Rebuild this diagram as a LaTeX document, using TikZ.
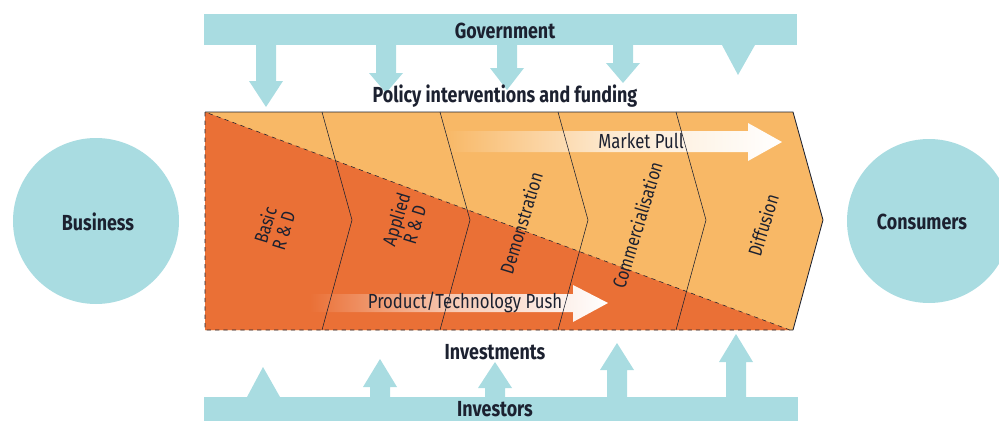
\documentclass[tikz,border=0pt]{standalone}
\usepackage{fontspec}
\setmainfont{Fira Sans}[FakeStretch=0.82]
\usetikzlibrary{positioning,calc}

\definecolor{govblue}{RGB}{169,220,225}
\definecolor{lightorange}{RGB}{248,184,102}
\definecolor{darkorange}{RGB}{234,112,54}
\definecolor{inktext}{RGB}{28,33,48}

% block arrows (centre x, shoulder y, tip y)
\newcommand{\downblock}[3]{%
  \fill[govblue] (#1-10,45) -- (#1+10,45) -- (#1+10,#2) -- (#1+17,#2) -- (#1,#3) -- (#1-17,#2) -- (#1-10,#2) -- cycle;}
\newcommand{\upblock}[3]{%
  \fill[govblue] (#1-10,397) -- (#1+10,397) -- (#1+10,#2) -- (#1+17,#2) -- (#1,#3) -- (#1-17,#2) -- (#1-10,#2) -- cycle;}

\tikzset{
  heading/.style={text=inktext, inner sep=1pt, font=\bfseries\fontsize{15.5}{17}\selectfont},
  stagelabel/.style={text=inktext, inner sep=1pt, rotate=73, align=center, font=\fontsize{13.5}{13.5}\selectfont},
  flowlabel/.style={text=inktext, inner sep=1pt, font=\fontsize{14.5}{16}\selectfont},
}

\begin{document}
\begin{tikzpicture}[x=0.025cm, y=-0.025cm]
    \clip (0,0) rectangle (999,421);

    % Government bar and arrows
    \fill[govblue] (204,14) rectangle (797,45);
    \node[heading] (gov) at (505,31) {Government};
    \downblock{266}{81}{107}
    \downblock{386}{73}{93}
    \downblock{507}{68}{90}
    \downblock{623}{63}{83}
    \fill[govblue] (722,45) -- (755,45) -- (738,75) -- cycle;
    \node[heading] (policy) at (505,96) {Policy interventions and funding};

    % Stages
    \fill[lightorange] (205,112) -- (793,112) -- (823,220) -- (793,330) -- (205,330) -- cycle;
    \fill[darkorange] (205,112) -- (790,330) -- (205,330) -- cycle;

    % Push and pull arrows
    \shade[left color=lightorange, right color=white, middle color=white!70!lightorange]
        (445,131) -- (748,131) -- (748,123) -- (782,142) -- (748,161) -- (748,152) -- (445,152) -- cycle;
    \shade[left color=darkorange, right color=white, middle color=white!65!darkorange]
        (310,294) -- (573,294) -- (573,285) -- (608,303) -- (573,322) -- (573,312) -- (310,312) -- cycle;

    \foreach \x in {322, 440, 558, 676} {
        \draw[inktext, thin] (\x,112) -- (\x+30,220) -- (\x,330);
    }
    \draw[inktext, semithick] (205,112) -- (793,112) -- (823,220) -- (793,330);
    \draw[inktext, thin, dashed] (793,330) -- (205,330) -- (205,112) -- (790,330);

    \node[flowlabel] (pull) at (641,141) {Market Pull};
    \node[flowlabel] (push) at (465,302) {Product/Technology Push};

    \node[stagelabel] (basic) at (274,228) {Basic\\R \& D};
    \node[stagelabel] (applied) at (405,222) {Applied\\R \& D};
    \node[stagelabel] (demo) at (521,223) {Demonstration};
    \node[stagelabel] (comm) at (637,225) {Commercialisation};
    \node[stagelabel] (diff) at (763,225) {Diffusion};

    % Actors
    \fill[govblue] (96,221) circle (83);
    \node[heading] (business) at (98,222) {Business};
    \fill[govblue] (929,221) circle (82);
    \node[heading] (consumers) at (922,222) {Consumers};

    % Investors bar and arrows
    \node[heading] (invest) at (495,352) {Investments};
    \fill[govblue] (247,397) -- (280,397) -- (263,367) -- cycle;
    \upblock{380}{387}{359}
    \upblock{495}{388}{362}
    \upblock{617}{370}{343}
    \upblock{736}{362}{334}
    \fill[govblue] (204,397) rectangle (798,421);
    \node[heading] (investors) at (495,409) {Investors};
\end{tikzpicture}
\end{document}
